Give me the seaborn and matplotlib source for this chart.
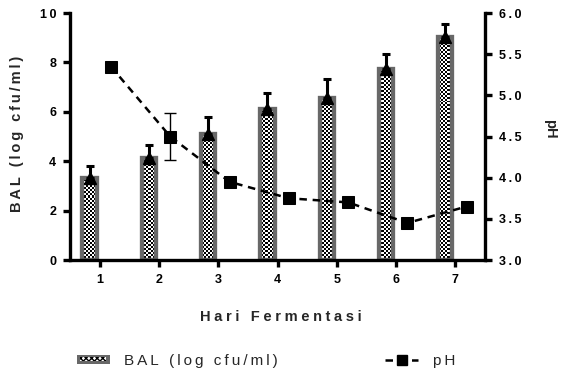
import numpy as np
import pandas as pd
import seaborn as sns
import matplotlib
matplotlib.use("Agg")
import matplotlib.pyplot as plt
from matplotlib.patches import Rectangle
from matplotlib.lines import Line2D
from matplotlib.legend_handler import HandlerBase

# Fermentation day and measurements
hari = np.array([1, 2, 3, 4, 5, 6, 7])
bal = np.array([3.32, 4.12, 5.12, 6.1, 6.56, 7.74, 9.02])          # log cfu/ml
bal_err = np.array([0.47, 0.55, 0.68, 0.68, 0.76, 0.62, 0.53])
ph = np.array([5.35, 4.5, 3.95, 3.75, 3.7, 3.45, 3.65])
ph_err = np.array([0.0, 0.28, 0.0, 0.0, 0.0, 0.0, 0.0])

day_labels = ["1", "2", "3", "4", "5", "6", "7"]
bal_ticks = [0, 2, 4, 6, 8, 10]
ph_ticks = [3.0, 3.5, 4.0, 4.5, 5.0, 5.5, 6.0]

BAR_GRAY = "#686868"
THIN = "\u2009"
PH_DASH = (0, (3.0, 2.3))


def spaced(s, gap=THIN):
    """Letter-spaced version of a label."""
    return gap.join(s)


sns.set_theme(style="ticks")
plt.rcParams["font.family"] = ["Liberation Sans", "DejaVu Sans"]
plt.rcParams["font.weight"] = "bold"

fig = plt.figure(figsize=(5.61, 3.73), dpi=100)
ax = fig.add_axes([0.1248, 0.3029, 0.7398, 0.6622])

df = pd.DataFrame({"x": hari - 0.17, "bal": bal})
sns.barplot(data=df, x="x", y="bal", native_scale=True, width=0.24,
            ax=ax, errorbar=None, color="white")

ax.set_xlim(0.5, 7.5)
ax.set_ylim(0, 10)

# gray frame + fine checker texture inside each bar
ny, nx = 124, 208
checker = (np.indices((ny, nx)).sum(axis=0) % 2).astype(float)
for patch in ax.patches:
    patch.set_facecolor("none")
    patch.set_edgecolor(BAR_GRAY)
    patch.set_linewidth(3.1)
    patch.set_zorder(2)
    im = ax.imshow(checker, cmap="gray", extent=(0.5, 7.5, 0, 10),
                   aspect="auto", interpolation="nearest", zorder=1.5,
                   origin="lower")
    im.set_clip_path(patch)
ax.set_xlim(0.5, 7.5)
ax.set_ylim(0, 10)

ax.errorbar(hari - 0.17, bal, yerr=[np.zeros_like(bal_err), bal_err],
            fmt="^", color="black", ms=8.5, elinewidth=2.2, capsize=2.6,
            capthick=2.2, zorder=3)

# pH on a secondary axis
ax2 = ax.twinx()
xp = hari + 0.19
sns.lineplot(x=xp, y=ph, ax=ax2, color="black", marker="s", markersize=8,
             markeredgecolor="black", linewidth=1.8,
             linestyle=PH_DASH, zorder=4)
mask = ph_err > 0
ax2.errorbar(xp[mask], ph[mask], yerr=ph_err[mask], fmt="none",
             ecolor="black", elinewidth=1.0, capsize=4, capthick=1.0, zorder=4)
ax2.set_ylim(3, 6)
ax2.set_xlim(0.5, 7.5)

# axes styling
for a in (ax, ax2):
    for s in a.spines.values():
        s.set_linewidth(2.4)
        s.set_color("black")
ax.spines["top"].set_visible(False)
ax.spines["right"].set_visible(False)
ax2.spines["top"].set_visible(False)
ax2.spines["left"].set_visible(False)
ax2.spines["bottom"].set_visible(False)

ax.set_xticks(hari, labels=day_labels)
ax.set_yticks(bal_ticks, labels=[spaced(str(t)) for t in bal_ticks])
ax2.set_yticks(ph_ticks, labels=[spaced(f"{t:.1f}") for t in ph_ticks])
for a in (ax, ax2):
    a.tick_params(width=2.4, length=5, pad=5, labelsize=9, color="black",
                  labelcolor="black")
for lab in ax.get_xticklabels() + ax.get_yticklabels() + ax2.get_yticklabels():
    lab.set_fontweight("bold")

ax.set_xlabel(spaced("Hari Fermentasi", "\u2005"), fontsize=10.5,
              fontweight="bold", va="center", ha="center")
ax.xaxis.set_label_coords(0.508, -0.231)
ax.set_ylabel(spaced("BAL (log cfu/ml)"), fontsize=10.5, fontweight="bold",
              va="center", ha="center")
ax.yaxis.set_label_coords(-0.128, 0.51)
ax2.set_ylabel("pH", fontsize=10.5, fontweight="bold", rotation=270,
               va="center", ha="center")
ax2.yaxis.set_label_coords(1.157, 0.53)


class CheckerHandler(HandlerBase):
    def create_artists(self, legend, orig_handle, xdescent, ydescent,
                       width, height, fontsize, trans):
        pad = 1.6
        outer = Rectangle((-xdescent, -ydescent), width, height,
                          facecolor=BAR_GRAY, edgecolor="none",
                          transform=trans)
        inner = Rectangle((-xdescent + pad * 1.6, -ydescent + pad),
                          width - 3.2 * pad, height - 2 * pad,
                          facecolor="white", edgecolor="black",
                          hatch="xxxxxx", linewidth=0, transform=trans)
        return [outer, inner]


bal_handle = Rectangle((0, 0), 1, 1)
ph_handle = Line2D([], [], color="black", linestyle=PH_DASH,
                   linewidth=1.8, marker="s", markersize=7)
fig.legend(handles=[bal_handle, ph_handle],
           labels=[spaced("BAL (log cfu/ml)"), spaced("pH")],
           handler_map={bal_handle: CheckerHandler()},
           ncol=2, loc="center left", bbox_to_anchor=(0.137, 0.033),
           borderaxespad=0, borderpad=0,
           frameon=False, handlelength=2.16, handleheight=0.5,
           handletextpad=0.95, columnspacing=7.0, numpoints=1,
           prop=dict(size=11, weight="normal"))

fig.savefig("out.png", dpi=100)
